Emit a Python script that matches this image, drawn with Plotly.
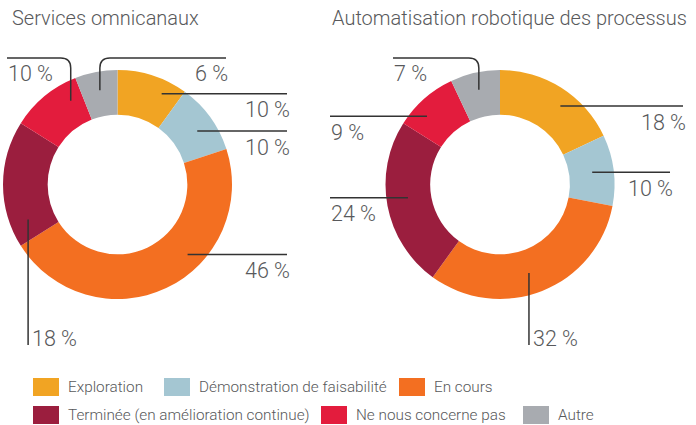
import math
import plotly.graph_objects as go

W, H = 696, 425

# ---------------- data ----------------
CATEGORIES = ["Exploration", "Démonstration de faisabilité", "En cours",
              "Terminée (en amélioration continue)", "Ne nous concerne pas", "Autre"]
COLORS = ["#F1A423", "#A4C6D2", "#F36F21", "#9B1E3E", "#E31C3D", "#A8ABB0"]
OMNI_VALUES = [10, 10, 46, 18, 10, 6]
RPA_VALUES = [18, 10, 32, 24, 9, 7]
TITLES = ["Services omnicanaux", "Automatisation robotique des processus"]

# ---------------- layout / style ----------------
FONT = "Roboto"
WEIGHT = 300
TEXT_COLOR = "#58595B"
LINE_COLOR = "#333333"
HOLE = 0.61

# donut boxes in pixels (left, top, right, bottom)
DONUT_BOXES = [(3, 70, 232, 299), (385, 70, 615, 299)]
TITLE_X = [10, 330]

# callout styling per slice (frac = where in the slice the leader starts, r = pixel radius)
CALLOUTS = [
    [dict(kind="h", frac=0.72, r=101, end=287),
     dict(kind="h", frac=0.56, r=96, end=287),
     dict(kind="h", frac=0.38, r=99, end=287),
     dict(kind="v", frac=0.17, r=96, end=345),
     dict(kind="hook", frac=0.79, r=96, top=58, end=7),
     dict(kind="hook", frac=0.51, r=96, top=58, end=226)],
    [dict(kind="h", frac=0.58, r=99, end=683),
     dict(kind="h", frac=0.49, r=93, end=670),
     dict(kind="v", frac=0.53, r=93, end=345),
     dict(kind="h", frac=0.53, r=93, end=330),
     dict(kind="h", frac=0.33, r=100, end=330),
     dict(kind="hook", frac=0.50, r=97, top=58, end=393)],
]

LEGEND_X = [33, 164, 399, 33, 321, 523]
LEGEND_ROW_Y = [387, 415]
LEGEND_SW, LEGEND_SH = 26, 18


def px(x):
    return x / W


def py(y):
    return 1 - y / H


fig = go.Figure()
shapes = []
annotations = []

for k, values in enumerate([OMNI_VALUES, RPA_VALUES]):
    l, t, r, b = DONUT_BOXES[k]
    fig.add_trace(go.Pie(
        labels=CATEGORIES, values=values, hole=HOLE, sort=False,
        direction="clockwise", rotation=0, textinfo="none",
        marker=dict(colors=COLORS, line=dict(width=0)),
        domain=dict(x=[px(l), px(r)], y=[py(b), py(t)]),
        showlegend=False, hoverinfo="label+percent", name=TITLES[k],
    ))
    annotations.append(dict(
        text=TITLES[k], x=px(TITLE_X[k]), y=py(18), xref="paper", yref="paper",
        xanchor="left", yanchor="middle", showarrow=False,
        font=dict(family=FONT, size=20, color=TEXT_COLOR, weight=WEIGHT)))

    cx, cy = (l + r) / 2, (t + b) / 2
    total = sum(values)
    cum = 0
    for i, v in enumerate(values):
        c = CALLOUTS[k][i]
        ang = math.radians((cum + c["frac"] * v) / total * 360)
        cum += v
        ax = cx + c["r"] * math.sin(ang)
        ay = cy - c["r"] * math.cos(ang)
        label = f"{v} %"
        tfont = dict(family=FONT, size=21.5, color=TEXT_COLOR, weight=WEIGHT)
        line = dict(color=LINE_COLOR, width=1.5)
        if c["kind"] == "h":
            shapes.append(dict(type="line", xref="paper", yref="paper",
                               x0=px(ax), y0=py(ay), x1=px(c["end"]), y1=py(ay), line=line))
            if c["end"] > ax:
                tx, xa = c["end"] + 5, "right"
            else:
                tx, xa = c["end"] - 1, "left"
            annotations.append(dict(text=label, x=px(tx), y=py(ay + 16), xref="paper", yref="paper",
                                    xanchor=xa, yanchor="middle", showarrow=False, font=tfont))
        elif c["kind"] == "v":
            shapes.append(dict(type="line", xref="paper", yref="paper",
                               x0=px(ax), y0=py(ay), x1=px(ax), y1=py(c["end"]), line=line))
            annotations.append(dict(text=label, x=px(ax + 2), y=py(c["end"] - 7), xref="paper", yref="paper",
                                    xanchor="left", yanchor="middle", showarrow=False, font=tfont))
        else:
            top, end = c["top"], c["end"]
            sgn = 1 if end > ax else -1
            rc = 10
            path = (f"M {px(ax)},{py(ay)} L {px(ax)},{py(top + rc)} "
                    f"Q {px(ax)},{py(top)} {px(ax + sgn * rc)},{py(top)} L {px(end)},{py(top)}")
            shapes.append(dict(type="path", xref="paper", yref="paper", path=path, line=line))
            if sgn > 0:
                tx, xa = end + 4, "right"
            else:
                tx, xa = end - 1, "left"
            annotations.append(dict(text=label, x=px(tx), y=py(top + 16), xref="paper", yref="paper",
                                    xanchor=xa, yanchor="middle", showarrow=False, font=tfont))

# legend (built from the category / colour lists)
for i, (cat, col) in enumerate(zip(CATEGORIES, COLORS)):
    x0 = LEGEND_X[i]
    yc = LEGEND_ROW_Y[i // 3]
    shapes.append(dict(type="rect", xref="paper", yref="paper",
                       x0=px(x0), x1=px(x0 + LEGEND_SW),
                       y0=py(yc - LEGEND_SH / 2), y1=py(yc + LEGEND_SH / 2),
                       fillcolor=col, line=dict(width=0)))
    annotations.append(dict(text=cat, x=px(x0 + LEGEND_SW + 7), y=py(yc), xref="paper", yref="paper",
                            xanchor="left", yanchor="middle", showarrow=False,
                            font=dict(family=FONT, size=15.3, color=TEXT_COLOR, weight=WEIGHT)))

fig.update_layout(
    width=W, height=H, margin=dict(l=0, r=0, t=0, b=0),
    paper_bgcolor="white", plot_bgcolor="white",
    shapes=shapes, annotations=annotations, showlegend=False,
    font=dict(family=FONT, color=TEXT_COLOR),
)

fig.write_html("out.html", config={"displayModeBar": False},
               post_script="document.body.style.margin='0';document.body.style.padding='0';")
